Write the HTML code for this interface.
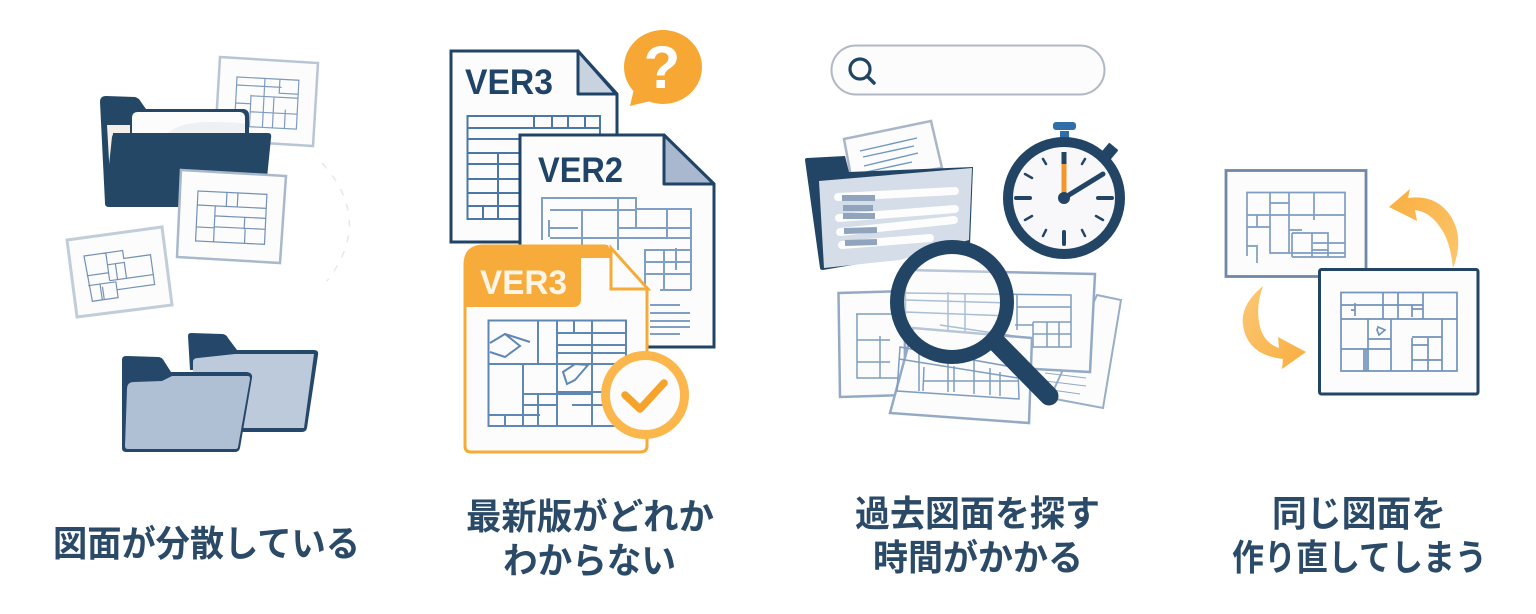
<!DOCTYPE html>
<html lang="ja"><head><meta charset="utf-8"><style>
html,body{margin:0;padding:0;background:#fff}
svg{display:block}
.t{font-family:"Liberation Sans","Noto Sans CJK JP",sans-serif;font-weight:700;font-size:36px;fill:#2b4a68;text-anchor:middle}
.v{font-family:"Liberation Sans",sans-serif;font-weight:700}
</style></head><body>
<svg width="1536" height="614" viewBox="0 0 1536 614" xmlns="http://www.w3.org/2000/svg">
<defs>
<linearGradient id="ga" x1="1" y1="1" x2="0" y2="0"><stop offset="0" stop-color="#fbc76f"/><stop offset="1" stop-color="#f9ae3e"/></linearGradient>
<linearGradient id="gb" x1="0" y1="0" x2="1" y2="1"><stop offset="0" stop-color="#fcc878"/><stop offset="1" stop-color="#f9ae3e"/></linearGradient>
</defs>
<rect width="1536" height="614" fill="#fff"/>

<!-- PANEL 1 -->
<path d="M322,163 Q374,220 327,281" fill="none" stroke="#e8e8ea" stroke-width="1.5" stroke-dasharray="7 9"/>
<polygon points="220,57 318,63 313,146 215,140" fill="#fcfcfc" stroke="#b9c5d5" stroke-width="2.500"/>
<g transform="translate(237,77) rotate(3)" fill="none" stroke="#7f9bbd" stroke-width="1.200">
<rect x="0" y="0" width="62" height="49"/><path d="M0,8H45M28,0V49M43,0V14H62M14,18H62M15,18V49M15,34H62M38,18V49M50,30V49M0,26H15M0,40H15"/>
</g>
<path d="M100,102Q100,96 106,96L135,97Q139,98 141,102L146,109L244,109Q249,110 249,115L249,140L113,140L109,207Q105,207 105,203Z" fill="#254766"/>
<polygon points="107,125 130,125 130,133 113,133 110,178" fill="#f4efe9"/>
<path d="M132,133V118Q132,112 138,112H239Q245,112 245,118V133Z" fill="#fcfcfc"/>
<path d="M168,133Q180,122 210,122T245,124V133Z" fill="#eef1f4"/>
<path d="M117,133H268Q272,133 271,138L267,178L240,207H109Q105,207 105,203L112,137Q113,133 117,133Z" fill="#254766"/>
<polygon points="181,170 286,176 280,263 177,257" fill="#fcfcfc" stroke="#a9b8cb" stroke-width="2.500"/>
<g transform="translate(198,191) rotate(2.8)" fill="none" stroke="#7391b6" stroke-width="1.200">
<rect x="0" y="0" width="69" height="50"/><path d="M0,14H69M29,0V14M40,0V14M18,24H69M18,14V50M18,35H69M0,36H18M49,36V50M48,24V36M49,48V36"/>
</g>
<polygon points="67,240 162,227 172,305 77,317" fill="#fcfcfc" stroke="#c2cdda" stroke-width="3"/>
<g transform="translate(84,256) rotate(-8)" fill="none" stroke="#7391b6" stroke-width="1.200">
<path d="M0,0H39V8H66V38H28V46H2ZM22,0V28M0,20H22M22,12H39V28H22M30,12V28M22,28H66M0,30H28M28,30V46M12,30V46M14,33V46"/>
</g>
<path d="M188,336Q188,333 191,333L222,334Q226,334 228,338L237,350H314Q319,350 318,355L307,428Q306,432 302,432H240V370H190Z" fill="#25476a"/>
<path d="M193,372V362Q193,358 198,358L235,354H314L304,428H240V372Z" fill="#bdcadb"/>
<path d="M122,360Q122,356 126,356L158,357Q162,357 164,361L171,372H247Q253,373 252,378L240,448Q239,452 235,452H126Q122,452 122,448Z" fill="#25476a"/>
<path d="M127,389Q127,382 134,382L162,381L172,376H248Q250,376 250,379L238,447Q238,449 235,449H128Q125,449 125,446Z" fill="#afc0d5"/>

<!-- PANEL 2 -->
<path d="M451,51H578L617,94V340H520V242H451Z" fill="#fcfcfd" stroke="#1f4468" stroke-width="3"/>
<polygon points="578,51 578,94 616,94" fill="#c9d3e0" stroke="#1f4468" stroke-width="3" stroke-linejoin="round"/>
<text x="465" y="94" class="v" font-size="35" fill="#1f4468" textLength="88" lengthAdjust="spacingAndGlyphs">VER3</text>
<g fill="none" stroke="#4a77a5" stroke-width="2">
<path d="M520,219H467.500V116H600V135M468,128H600M468,139H520M468,153H520M468,164H520M468,179H520M468,193H520M468,206H520M534,116V128M552,116V128M568,116V128M585,116V128M498,153V219M483,206V219"/>
</g>
<path d="M520,135H664L714,184V347H520Z" fill="#fcfcfd" stroke="#1f4468" stroke-width="3"/>
<polygon points="664,135 664,184 714,184" fill="#a9b8cf" stroke="#1f4468" stroke-width="3" stroke-linejoin="round"/>
<text x="538" y="182" class="v" font-size="35" fill="#1f4468" textLength="85" lengthAdjust="spacingAndGlyphs">VER2</text>
<g fill="none" stroke="#7f9fc4" stroke-width="2">
<path d="M542,240V198H636V209H691V290M550,210H636M549,237V220M582,209V250M618,198V250M667,209V238M618,228H691M618,238H691M550,238H618M644,250H691M645,250V290M664,250V290M645,262H691M645,274H691M660,290H691M636,198V228M676,248V270M548,228H578"/>
<path d="M650,305H680M650,313H690M650,321H690M650,327H690M650,334H680"/>
</g>
<path d="M465,265Q465,246 484,246H605L647,290V446Q647,452 640,452H471Q465,452 465,446Z" fill="#fcfcfd" stroke="#f5ab38" stroke-width="3"/>
<path d="M464,264Q464,245 484,245H608L613,258H581V299Q581,307 573,307H464Z" fill="#f7ab3b"/>
<polygon points="611,248 611,289 648,289" fill="#fcfcfd" stroke="#f5ab38" stroke-width="3"/>
<text x="480" y="294" class="v" font-size="34" fill="#fff5e6" textLength="87" lengthAdjust="spacingAndGlyphs">VER3</text>
<g fill="none" stroke="#5f87b4" stroke-width="2">
<path d="M488.500,320.500H626V426H488.500ZM488,364H626M538,320V364M557,320V426M592,320V426M574,320V333M557,333H626M557,345H626M557,353H626M523,364V426M523,394H592M538,394V426M523,405H557M557,392H605M488,415H540M505,415V426M572,405H626M490,343L505,334L520,346L505,357L490,352M505,334L530,342M563,372L575,364L588,365L575,380L567,384Z"/>
</g>
<circle cx="645" cy="395" r="39.500" fill="#fcfcfd" stroke="#fbb64c" stroke-width="9"/>
<path d="M625,395L640,409L664,383" fill="none" stroke="#f5a32a" stroke-width="7.500" stroke-linecap="round" stroke-linejoin="round"/>
<ellipse cx="663" cy="67" rx="39" ry="37" fill="#f7a733"/>
<polygon points="630,106 636,80 655,100" fill="#f7a733"/>
<text x="662" y="88" class="v" font-size="60" fill="#fff" text-anchor="middle">?</text>

<!-- PANEL 3 -->
<rect x="831.500" y="45.500" width="273" height="49" rx="24.500" fill="#fcfcfd" stroke="#b1b7c4" stroke-width="2"/>
<circle cx="860" cy="69" r="10" fill="none" stroke="#234565" stroke-width="3.200"/>
<line x1="867" y1="76" x2="874" y2="83" stroke="#234565" stroke-width="3.500" stroke-linecap="round"/>
<polygon points="844,139 931,121 942,168 852,182" fill="#fcfcfd" stroke="#aab6c8" stroke-width="2.500"/>
<path d="M860,151L917,138M863,157L914,146M864,166L918,153M866,172L912,162" stroke="#6d96c0" stroke-width="1.400" fill="none"/>
<path d="M805,160Q805,158 807,158L845,156L849,172L973,167L970,245L823,270Q820,270 820,268Z" fill="#234565"/>
<polygon points="819,181 972,168 969,240 900,260 824,268" fill="#d5dde8"/>
<path d="M838,197L955,191M839,218L955,209M840,232L954,220M842,245L930,238" stroke="#fdfdfe" stroke-width="8" stroke-linecap="round"/>
<path d="M842,198H875M843,208H873M843,216H875M844,231L877,230M845,243L877,242" stroke="#90a4be" stroke-width="6"/>

<polygon points="1097,295 1121,300 1103,408 1050,398" fill="#fcfcfd" stroke="#98aec7" stroke-width="2"/>
<path d="M1045,373L1086,378M1045,381L1086,386M1045,389L1080,394" stroke="#8fa9c6" stroke-width="1" fill="none"/>
<polygon points="838.500,293 905,291 905,395 840,397" fill="#fcfcfd" stroke="#94aac4" stroke-width="2.500"/>
<polygon points="905,270 1095,274 1090,372 905,362" fill="#fcfcfd" stroke="#94aac4" stroke-width="2.500"/>
<g fill="none" stroke="#7f9dbf" stroke-width="1.500">
<path d="M856,314H900M857,314V378H900M857,340H890M880,336V378M857,362H890"/>
<path d="M905,293L1071,295V347H1033V325H1015M905,300L1010,303M905,312L1010,316M948,292V330M965,294V332M1017,294V330M1017,307H1071M1033,322H1071M1033,347V322M1047,322V347M1059,322V347M1033,334H1071M940,325L1020,337"/>
</g>
<polygon points="913,328 1032,338 1029,423 890,413" fill="#fcfcfd" stroke="#94aac4" stroke-width="2.500"/>
<g fill="none" stroke="#7f9dbf" stroke-width="1.500">
<path d="M900,347L1018,368L1019,399L897,391ZM899,359L1018,378M919,351V391M924,367L923,391M948,355V392M954,366V392M974,360V394M990,368V395M1000,372V396M924,381H1018"/>
</g>
<line x1="997" y1="343" x2="1049" y2="396" stroke="#234565" stroke-width="19" stroke-linecap="round"/>
<circle cx="952" cy="302" r="55" fill="#fcfcfd" fill-opacity=".35" stroke="#234565" stroke-width="14"/>

<rect x="1060" y="131" width="9" height="9" fill="#2f6ea8"/>
<rect x="1053" y="122" width="23" height="8" rx="3" fill="#2f6ea8"/>
<rect x="1104" y="145" width="12" height="12" rx="1" fill="#234565" transform="rotate(40 1110 151)"/>
<circle cx="1064" cy="198" r="56" fill="#f8f8fa" stroke="#234565" stroke-width="10"/>
<path d="M1016,198H1030M1098,198H1112M1064,232V244" stroke="#234565" stroke-width="4" stroke-linecap="round"/>
<path d="M1043,159L1046,164M1085,159L1082,164M1025,174L1032,178M1025,220L1032,216M1043,236L1046,230M1085,236L1082,230M1103,220L1096,216" stroke="#234565" stroke-width="2.500" stroke-linecap="round"/>
<line x1="1064" y1="152" x2="1064" y2="165" stroke="#234565" stroke-width="5"/>
<line x1="1064" y1="164" x2="1064" y2="194" stroke="#f5962a" stroke-width="5"/>
<line x1="1064" y1="198" x2="1103" y2="174" stroke="#234565" stroke-width="5" stroke-linecap="round"/>
<circle cx="1064" cy="198" r="6" fill="#234565"/>

<!-- PANEL 4 -->
<rect x="1226" y="170.500" width="140" height="106" fill="#fcfcfd" stroke="#6f88a6" stroke-width="2.800"/>
<g fill="none" stroke="#7f9dc0" stroke-width="1.700">
<path d="M1247,256V192.500H1345V257H1292M1247,215H1345M1270,192V204M1270,204V253H1345M1289,192V253M1314,192V220M1270,203H1289M1247,227H1270M1257,215V227M1257,263V247M1289,230H1302M1292,233V257M1312,233V257M1292,233H1328V257M1313,243H1345M1312,250H1328M1328,233V257M1247,246H1258"/>
</g>
<rect x="1319.500" y="269.500" width="158.500" height="124.500" rx="2" fill="#fcfcfd" stroke="#234565" stroke-width="3"/>
<g fill="none" stroke="#7293ba" stroke-width="1.700">
<path d="M1341,292.500H1457V371H1341ZM1341,305H1423M1341,319H1457M1383,292V319M1398,292V319M1423,292V319M1368,319V371M1391,319V341M1368,339H1391M1368,349H1391M1391,339V371M1412,338V371M1412,337H1442M1412,345H1428M1412,360H1442M1428,338V371M1442,319V371M1341,349H1368M1364,349V371M1366,349V371"/>
<path d="M1355,303V316M1351,310H1355M1412,305V317M1412,309H1423M1378,327L1385,330L1379,335L1377,330Z"/>
</g>
<path d="M1389,207L1410,189L1408,198Q1435,194 1450,215Q1465,238 1453,268Q1450,240 1440,227Q1430,212 1415,210L1417,221Z" fill="url(#ga)"/>
<path d="M1263,286Q1240,305 1243,325Q1247,355 1283,359L1282,369L1306,352L1278,337L1279,348Q1262,342 1259,322Q1256,305 1263,286Z" fill="url(#gb)"/>

<!-- LABELS -->
<text class="t" x="206.500" y="556" textLength="307" lengthAdjust="spacingAndGlyphs">図面が分散している</text>
<text class="t" x="590" y="529" textLength="248" lengthAdjust="spacingAndGlyphs">最新版がどれか</text>
<text class="t" x="589.500" y="573" textLength="173" lengthAdjust="spacingAndGlyphs">わからない</text>
<text class="t" x="977.500" y="526" textLength="245" lengthAdjust="spacingAndGlyphs">過去図面を探す</text>
<text class="t" x="978" y="570" textLength="210" lengthAdjust="spacingAndGlyphs">時間がかかる</text>
<text class="t" x="1359" y="526" textLength="174" lengthAdjust="spacingAndGlyphs">同じ図面を</text>
<text class="t" x="1359.500" y="570" textLength="255" lengthAdjust="spacingAndGlyphs">作り直してしまう</text>
</svg>
</body></html>
